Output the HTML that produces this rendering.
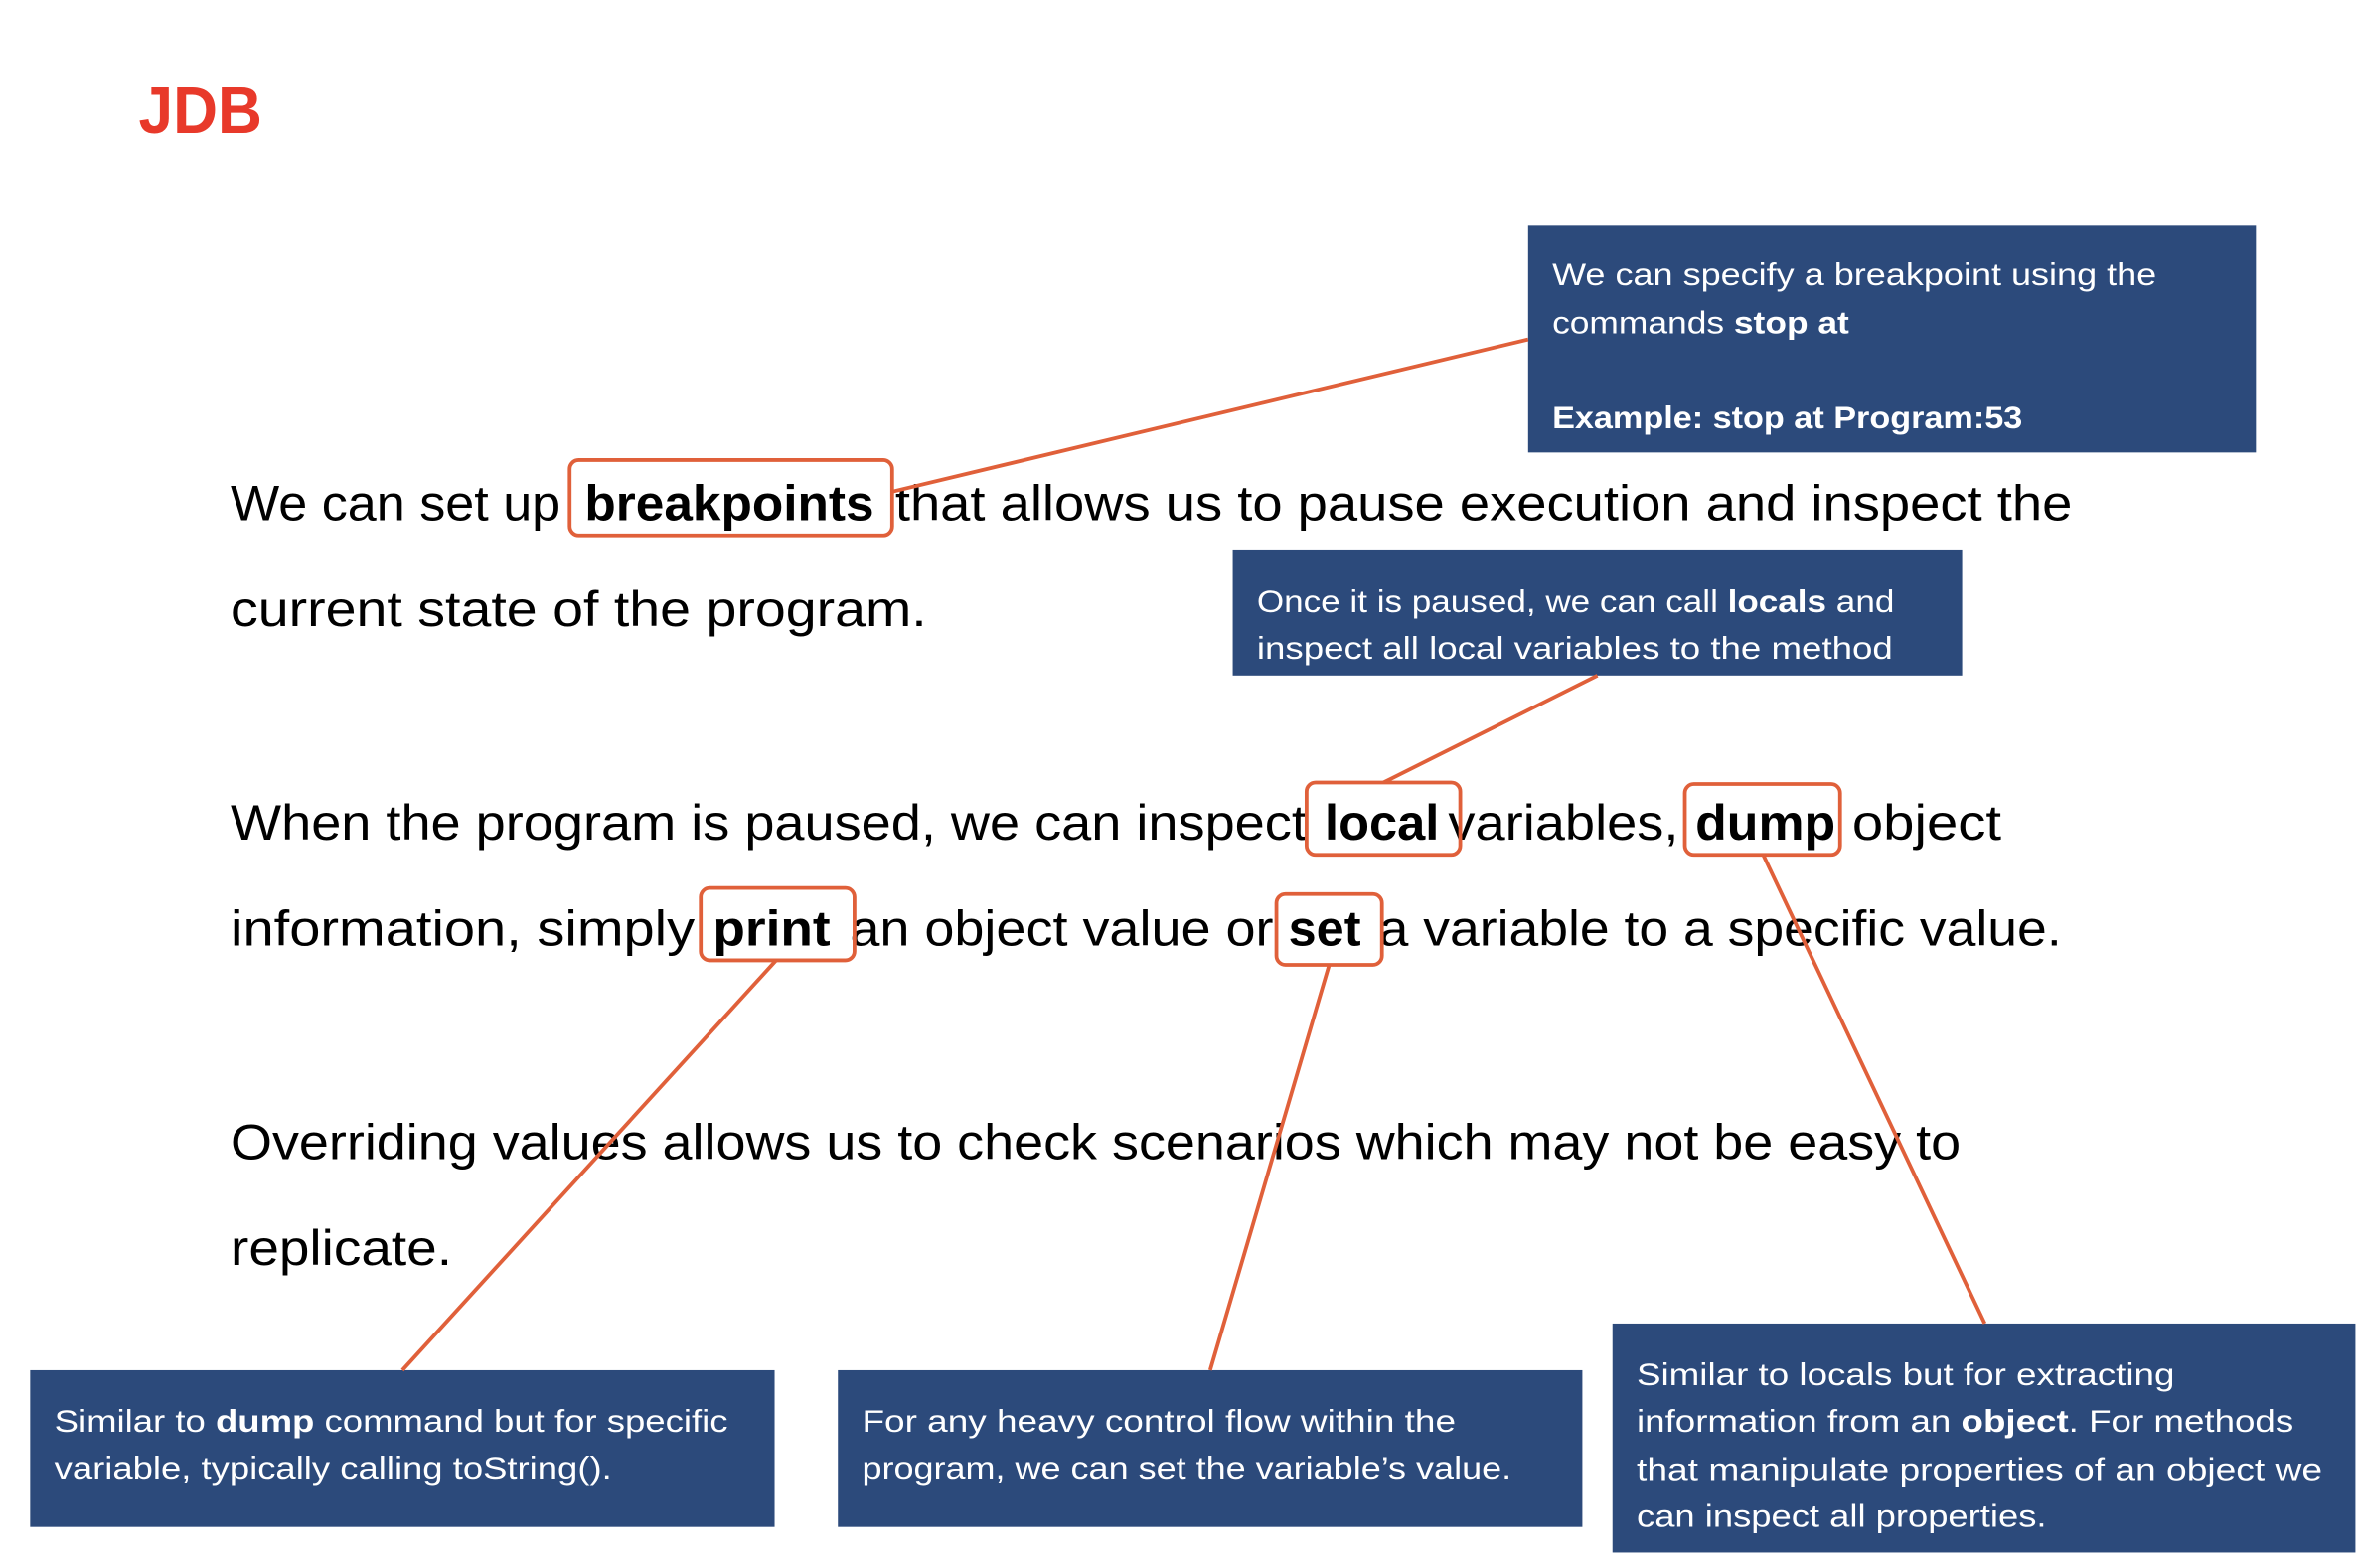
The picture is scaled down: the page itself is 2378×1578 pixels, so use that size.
<!DOCTYPE html>
<html><head><meta charset="utf-8"><style>
html,body{margin:0;padding:0;background:#fff;}
svg{display:block;}
text{font-family:"Liberation Sans",sans-serif;}
.b{font-size:33px;fill:#000;}
.w{font-size:21px;fill:#fff;}
</style></head><body>
<svg width="2378" height="1578" viewBox="0 0 1568 1040" xmlns="http://www.w3.org/2000/svg">
<rect width="1568" height="1040" fill="#fff"/>
<text x="92" y="88" font-size="44" font-weight="bold" fill="#e8392a" textLength="82" lengthAdjust="spacingAndGlyphs">JDB</text>

<g fill="#2c4a7b">
<rect x="1014" y="149" width="483" height="151"/>
<rect x="818" y="365" width="484" height="83"/>
<rect x="20" y="909" width="494" height="104"/>
<rect x="556" y="909" width="494" height="104"/>
<rect x="1070" y="878" width="493" height="152"/>
</g>

<g class="b">
<text x="153" y="345" textLength="219" lengthAdjust="spacingAndGlyphs">We can set up</text>
<text x="388" y="345" font-weight="bold" textLength="192" lengthAdjust="spacingAndGlyphs">breakpoints</text>
<text x="594" y="345" textLength="781" lengthAdjust="spacingAndGlyphs">that allows us to pause execution and inspect the</text>
<text x="153" y="415" textLength="462" lengthAdjust="spacingAndGlyphs">current state of the program.</text>
<text x="153" y="557" textLength="714" lengthAdjust="spacingAndGlyphs">When the program is paused, we can inspect</text>
<text x="879" y="557" font-weight="bold" textLength="76" lengthAdjust="spacingAndGlyphs">local</text>
<text x="961" y="557" textLength="153" lengthAdjust="spacingAndGlyphs">variables,</text>
<text x="1125" y="557" font-weight="bold" textLength="93" lengthAdjust="spacingAndGlyphs">dump</text>
<text x="1229" y="557" textLength="99" lengthAdjust="spacingAndGlyphs">object</text>
<text x="153" y="627" textLength="308" lengthAdjust="spacingAndGlyphs">information, simply</text>
<text x="473" y="627" font-weight="bold" textLength="78" lengthAdjust="spacingAndGlyphs">print</text>
<text x="564" y="627" textLength="281" lengthAdjust="spacingAndGlyphs">an object value or</text>
<text x="855" y="627" font-weight="bold" textLength="48" lengthAdjust="spacingAndGlyphs">set</text>
<text x="915" y="627" textLength="453" lengthAdjust="spacingAndGlyphs">a variable to a specific value.</text>
<text x="153" y="769" textLength="1148" lengthAdjust="spacingAndGlyphs">Overriding values allows us to check scenarios which may not be easy to</text>
<text x="153" y="839" textLength="147" lengthAdjust="spacingAndGlyphs">replicate.</text>
</g>

<g class="w">
<text x="1030" y="189" textLength="401" lengthAdjust="spacingAndGlyphs">We can specify a breakpoint using the</text>
<text x="1030" y="221" textLength="197" lengthAdjust="spacingAndGlyphs">commands <tspan font-weight="bold">stop at</tspan></text>
<text x="1030" y="284" font-weight="bold" textLength="312" lengthAdjust="spacingAndGlyphs">Example: stop at Program:53</text>
<text x="834" y="406" textLength="423" lengthAdjust="spacingAndGlyphs">Once it is paused, we can call <tspan font-weight="bold">locals</tspan> and</text>
<text x="834" y="437" textLength="422" lengthAdjust="spacingAndGlyphs">inspect all local variables to the method</text>
<text x="36" y="950" textLength="447" lengthAdjust="spacingAndGlyphs">Similar to <tspan font-weight="bold">dump</tspan> command but for specific</text>
<text x="36" y="981" textLength="370" lengthAdjust="spacingAndGlyphs">variable, typically calling toString().</text>
<text x="572" y="950" textLength="394" lengthAdjust="spacingAndGlyphs">For any heavy control flow within the</text>
<text x="572" y="981" textLength="431" lengthAdjust="spacingAndGlyphs">program, we can set the variable’s value.</text>
<text x="1086" y="919" textLength="357" lengthAdjust="spacingAndGlyphs">Similar to locals but for extracting</text>
<text x="1086" y="950" textLength="436" lengthAdjust="spacingAndGlyphs">information from an <tspan font-weight="bold">object</tspan>. For methods</text>
<text x="1086" y="982" textLength="455" lengthAdjust="spacingAndGlyphs">that manipulate properties of an object we</text>
<text x="1086" y="1013" textLength="272" lengthAdjust="spacingAndGlyphs">can inspect all properties.</text>
</g>

<g stroke="#e0603a" stroke-width="2.5" fill="none">
<line x1="1014" y1="225" x2="592" y2="326"/>
<line x1="1060" y1="448" x2="918" y2="519"/>
<line x1="515" y1="637" x2="267" y2="909"/>
<line x1="882" y1="640" x2="803" y2="909"/>
<line x1="1170" y1="567" x2="1317" y2="878"/>
<rect x="378" y="305" width="214" height="50" rx="6"/>
<rect x="867" y="519" width="102" height="48" rx="6"/>
<rect x="1118" y="520" width="103" height="47" rx="6"/>
<rect x="465" y="589" width="102" height="48" rx="6"/>
<rect x="847" y="593" width="70" height="47" rx="6"/>
</g>
</svg>
</body></html>
